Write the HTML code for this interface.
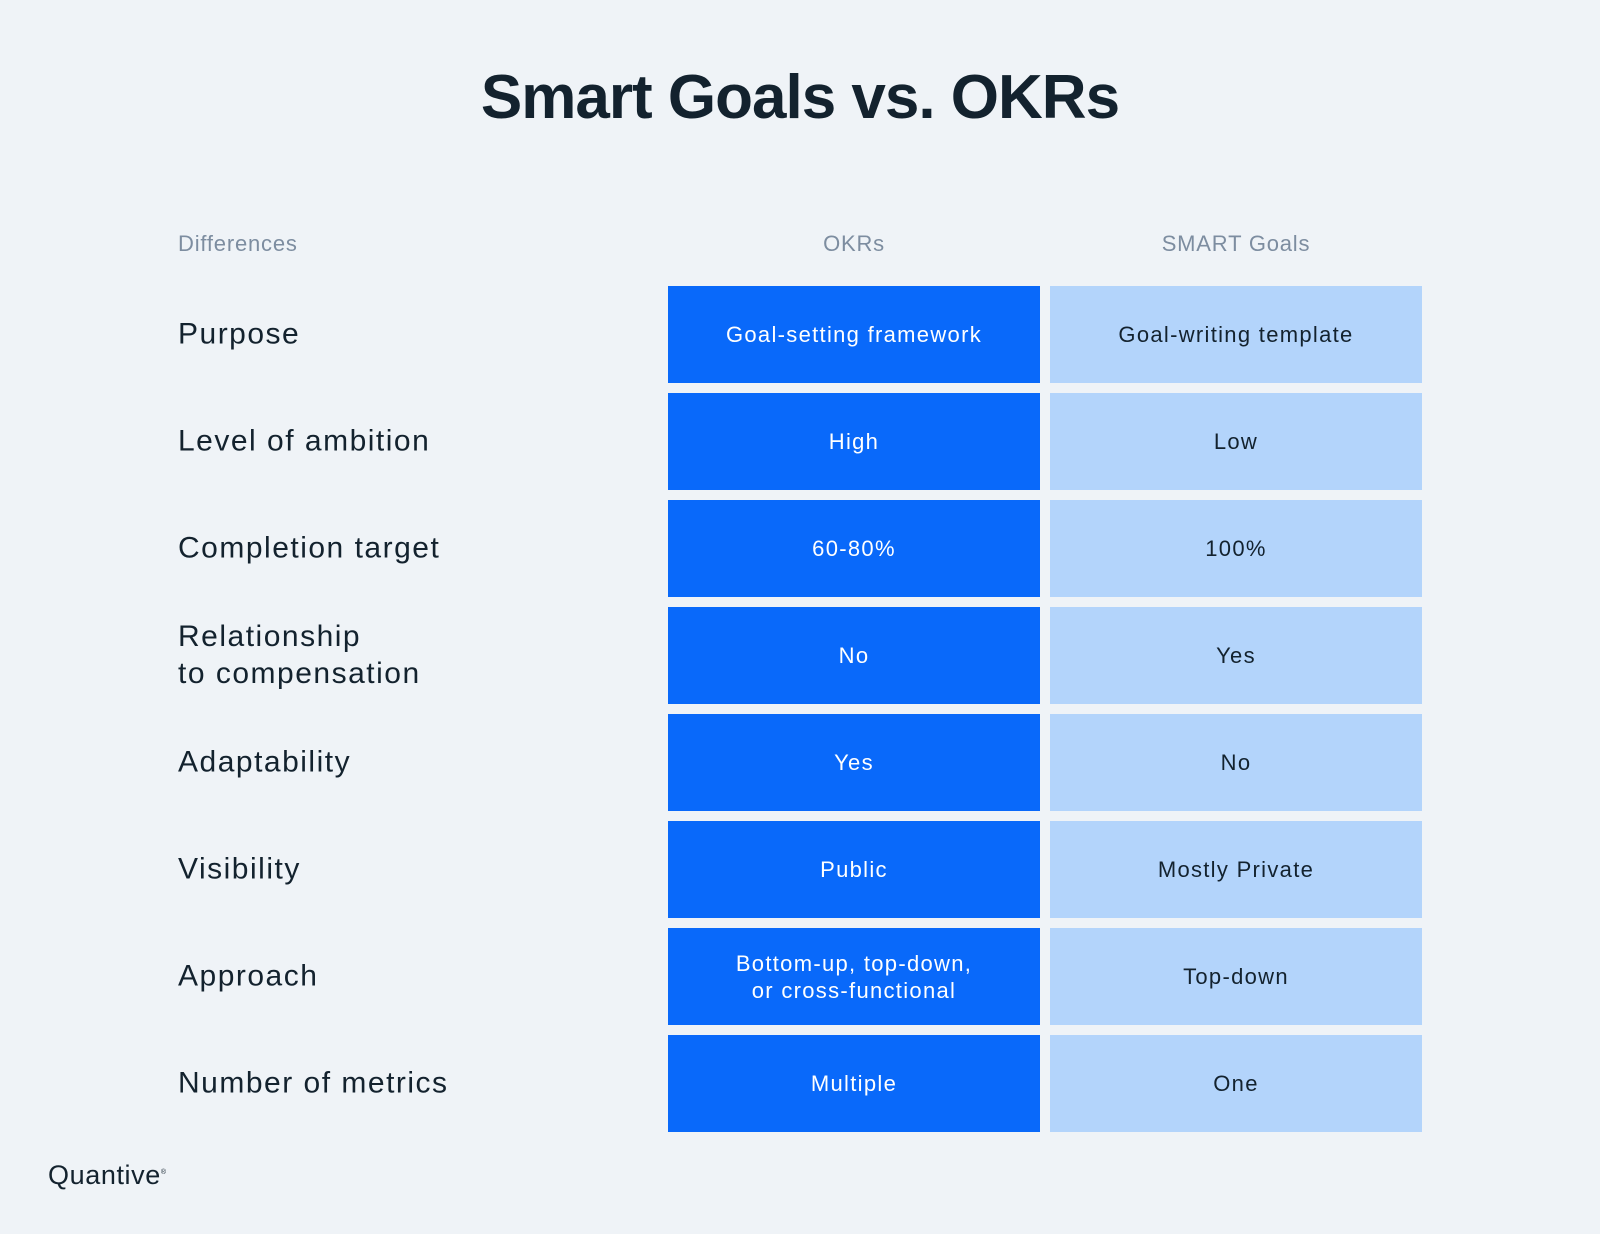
<!DOCTYPE html>
<html><head><meta charset="utf-8"><style>
body{margin:0;width:1600px;height:1234px;background:#eff3f7;font-family:"Liberation Sans",sans-serif;position:relative;overflow:hidden;color:#13222e}
.t{position:absolute;left:0;width:1600px;top:62px;text-align:center;font-size:62px;font-weight:bold;letter-spacing:-1px}
.h{position:absolute;top:231px;font-size:22px;color:#7d8da0;letter-spacing:0.8px}
.l{position:absolute;left:178px;font-size:30px;line-height:37px;transform:translateY(-50%);letter-spacing:1.5px}
.c{position:absolute;width:372px;height:97px;display:flex;align-items:center;justify-content:center;text-align:center;font-size:22px;line-height:27px;letter-spacing:1.3px}
.a{left:668px;background:#0969fa;color:#fff}
.b{left:1050px;background:#b3d4fb;color:#13222e}
.logo{position:absolute;left:48px;top:1160px;font-size:27px;letter-spacing:0.6px}
</style></head><body>
<div class="t">Smart Goals vs. OKRs</div>
<div class="h" style="left:178px">Differences</div>
<div class="h" style="left:668px;width:372px;text-align:center">OKRs</div>
<div class="h" style="left:1050px;width:372px;text-align:center">SMART Goals</div>
<div id="rows"></div>
<div class="logo">Quantive<sup style="font-size:7px">®</sup></div>
<script>
const labels=["Purpose","Level of ambition","Completion target","Relationship<br>to compensation","Adaptability","Visibility","Approach","Number of metrics"];
const okrs=["Goal-setting framework","High","60-80%","No","Yes","Public","Bottom-up, top-down,<br>or cross-functional","Multiple"];
const smart=["Goal-writing template","Low","100%","Yes","No","Mostly Private","Top-down","One"];
const root=document.getElementById('rows');
labels.forEach((lab,i)=>{
  const top=286+i*107;
  const l=document.createElement('div');l.className='l';l.style.top=(top+48)+'px';l.innerHTML=lab;
  
  
  root.appendChild(l);
  const a=document.createElement('div');a.className='c a';a.style.top=top+'px';a.innerHTML=okrs[i];
  
  
  root.appendChild(a);
  const b=document.createElement('div');b.className='c b';b.style.top=top+'px';b.innerHTML=smart[i];
  
  
  root.appendChild(b);
});
</script>
</body></html>
